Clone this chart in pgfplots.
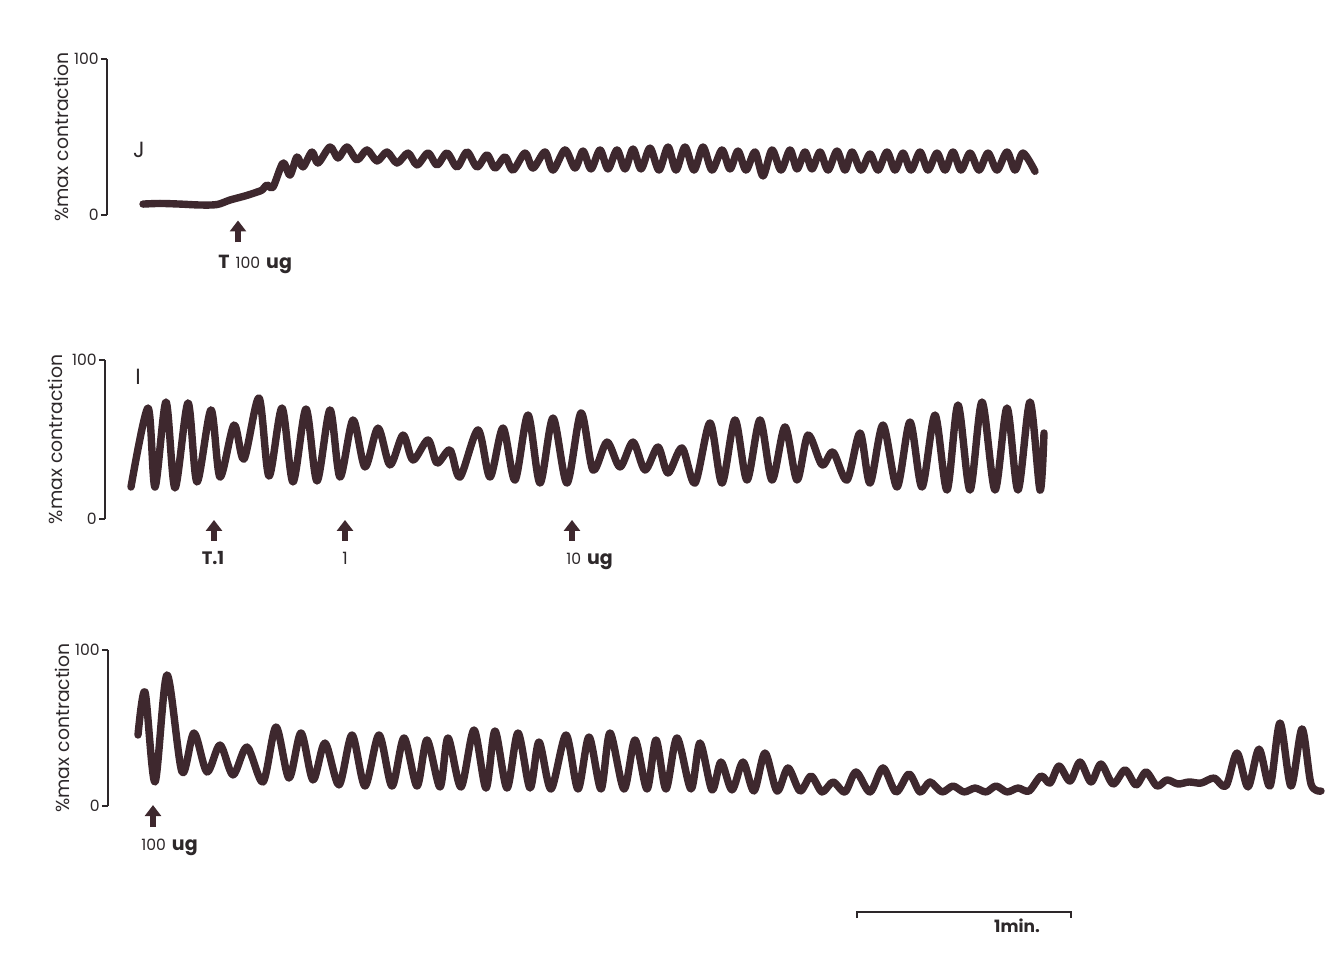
\documentclass[border=0pt]{standalone}
\usepackage{fontspec}
\setmainfont{Poppins}
\usepackage{pgfplots}
\pgfplotsset{compat=1.18}
\usetikzlibrary{arrows.meta}
\definecolor{tracecol}{RGB}{62,40,46}
\definecolor{ink}{RGB}{45,40,42}

\pgfplotsset{
  panel/.style={
    scale only axis, clip=false,
    xmax=1330, ymin=0, ymax=100,
    axis x line=none, axis y line=left,
    y axis line style={-, line width=0.8pt, ink},
    ytick={0,100}, tick align=outside, major tick length=3pt,
    tick style={ink, line width=0.8pt},
    yticklabel style={font=\fontsize{7.8}{8}\selectfont, text=ink, inner sep=1pt},
    /pgf/number format/assume math mode=true,
    every axis y label/.style={at={(axis description cs:0,0.5)}, rotate=90, anchor=center,
      font=\fontsize{9.4}{11}\selectfont, text=ink},
    ylabel={\%max contraction},
  },
  tr/.style={tracecol, line width=3.7pt, smooth, tension=0.5, line join=round, line cap=round, no markers},
}
\tikzset{arr/.style={tracecol, line width=2.9pt, -{Triangle[width=8pt,length=5.5pt]}}}

\begin{document}
\begin{tikzpicture}
\path[use as bounding box] (0,0) rectangle (666.5pt,479.5pt);

% ---------------- Panel J ----------------
\begin{axis}[panel, xmin=107, width=611.5pt, height=78pt,
  at={(53.5pt,372pt)}, anchor=south west,
  every axis y label/.append style={yshift=23pt}]
\addplot[tr] coordinates {
(143,7.0) (160,7.4) (180,7.0) (200,6.4) (217,6.7) (230,9.6) (245,12.2) (257,14.7) (262,16.0) (267,19.2) (273,17.9)
(283,33.3) (290,25.6) (297,37.2) (303,30.8) (312,40.4) (318,33.3) (330,43.6) (338,36.5) (347,43.6) (357,35.3)
(367,41.7) (377,34.6) (387,40.4) (397,33.3) (408,39.7) (417,32.1) (428,39.7) (437,32.1) (447,39.7) (457,30.8)
(467,40.4) (477,30.8) (487,38.5) (495,30.1) (505,37.2) (513,28.8) (525,39.7) (533,30.1) (545,40.4) (553,28.8)
(565,41.7) (575,30.1) (583,41.0) (591,29.5) (600,41.7) (608,29.5) (617,41.7) (625,29.5) (633,42.3) (641,29.5)
(650,42.9) (659,28.8) (668,43.6) (676,28.8) (685,43.6) (694,28.8) (703,43.6) (712,28.8) (722,41.7) (730,29.5)
(738,41.0) (746,28.8) (755,40.4) (763,25.0) (772,41.7) (781,28.8) (790,41.7) (797,29.5) (805,40.4) (812,29.5)
(820,40.4) (828,28.8) (837,41.0) (845,28.8) (852,40.4) (861,28.8) (870,39.1) (878,28.8) (887,40.4) (895,28.8)
(903,39.7) (911,28.8) (920,40.4) (928,28.8) (937,39.7) (945,28.8) (953,40.4) (961,28.8) (970,39.7) (979,28.8)
(988,39.7) (997,28.8) (1007,40.4) (1015,28.8) (1023,39.7) (1035,28.0)
};
\node[text=ink, font=\fontsize{11}{12}\selectfont] at (axis cs:139,41.7) {J};
\draw[arr] (axis cs:238,-17.5) -- (axis cs:238,-3.5);
\node[anchor=base west, text=ink, inner sep=0pt] at (axis cs:218,-34.5)
  {\fontsize{9.5}{10}\selectfont\textbf{T}\hspace{3pt}{\fontsize{7.8}{9}\selectfont 100}\hspace{3pt}\textbf{ug}};
\end{axis}

% ---------------- Panel I ----------------
\begin{axis}[panel, xmin=105, width=612.5pt, height=79.5pt,
  at={(52.5pt,220pt)}, anchor=south west,
  every axis y label/.append style={yshift=25pt}]
\addplot[tr] coordinates {
(131,20.1) (148,69.8) (155,20.1) (166,73.6) (175,19.5) (188,73.0) (197,23.3) (211,68.6) (220,26.4) (234,59.1)
(244,37.7) (259,76.1) (269,27.0) (282,69.8) (293,23.3) (306,69.2) (317,23.9) (330,68.6) (340,26.4) (353,62.3)
(365,32.7) (378,57.2) (390,34.0) (403,52.8) (413,37.1) (428,49.7) (437,35.2) (450,43.4) (460,26.4) (478,56.0)
(490,26.4) (503,57.2) (515,24.5) (528,65.4) (540,22.6) (553,63.5) (567,22.6) (581,66.7) (593,30.8) (607,48.4)
(620,32.7) (633,48.4) (645,30.8) (658,45.3) (668,28.9) (682,44.7) (695,22.6) (710,60.4) (722,22.6) (735,62.3)
(747,24.5) (760,62.3) (772,24.5) (785,57.9) (797,24.5) (808,52.8) (822,34.0) (833,42.1) (847,24.5) (860,54.1)
(870,22.6) (883,59.1) (897,20.1) (910,61.0) (922,20.1) (935,65.4) (947,18.2) (958,71.7) (970,18.2) (982,73.6)
(995,18.2) (1007,69.8) (1018,18.2) (1030,73.6) (1040,18.2) (1044,54.1)
};
\node[text=ink, font=\fontsize{11}{12}\selectfont] at (axis cs:138,89.3) {I};
\draw[arr] (axis cs:214,-13.8) -- (axis cs:214,-0.6);
\draw[arr] (axis cs:345,-13.8) -- (axis cs:345,-0.6);
\draw[arr] (axis cs:572,-13.8) -- (axis cs:572,-0.6);
\node[anchor=base, text=ink, inner sep=0pt, font=\fontsize{9}{10}\selectfont\bfseries] at (axis cs:213,-28.9) {T.1};
\node[anchor=base, text=ink, inner sep=0pt, font=\fontsize{8.5}{9}\selectfont] at (axis cs:345,-28.9) {1};
\node[anchor=base west, text=ink, inner sep=0pt] at (axis cs:566,-28.9)
  {{\fontsize{7.8}{9}\selectfont 10}\hspace{3pt}{\fontsize{9.5}{10}\selectfont\textbf{ug}}};
\end{axis}

% ---------------- Panel 3 ----------------
\begin{axis}[panel, xmin=108, width=611pt, height=78pt,
  at={(54pt,76.5pt)}, anchor=south west,
  every axis y label/.append style={yshift=23pt}]
\addplot[tr] coordinates {
(138,45.5) (145,73.1) (155,15.4) (167,84.0) (182,21.8) (194,46.8) (207,21.8) (220,39.1) (233,19.9) (247,37.8)
(263,15.4) (276,50.6) (289,17.9) (301,46.8) (313,16.7) (325,40.4) (339,13.5) (352,45.5) (365,12.8) (379,45.5)
(392,12.8) (404,43.6) (417,12.8) (427,42.3) (440,12.2) (448,43.6) (461,12.2) (474,48.7) (486,11.5) (495,48.1)
(507,11.5) (518,46.8) (530,11.5) (539,41.0) (551,10.9) (566,45.5) (578,10.9) (589,44.2) (601,10.9) (610,46.8)
(624,10.9) (635,42.3) (647,10.9) (656,42.3) (666,10.9) (677,43.6) (691,10.9) (700,40.4) (712,10.3) (721,28.2)
(732,10.3) (743,28.2) (754,9.6) (765,34.0) (777,9.6) (788,24.4) (800,9.6) (811,19.2) (822,9.0) (833,15.4)
(845,9.0) (856,21.8) (870,9.0) (883,24.4) (896,9.0) (909,20.5) (920,9.0) (930,15.4) (942,9.0) (953,12.8)
(964,9.0) (975,11.5) (986,9.0) (996,12.8) (1007,9.0) (1018,11.5) (1029,9.6) (1041,19.2) (1050,14.7) (1059,25.6)
(1070,16.0) (1080,28.2) (1091,15.4) (1101,26.9) (1113,14.1) (1125,23.1) (1136,13.5) (1146,21.8) (1157,12.8) (1167,16.7)
(1178,14.1) (1189,15.4) (1201,14.7) (1214,17.9) (1226,12.8) (1237,34.0) (1248,12.2) (1259,36.5) (1270,12.8) (1280,53.2)
(1291,12.8) (1302,49.4) (1311,14.1) (1321,9.6)
};
\draw[arr] (axis cs:153,-13.5) -- (axis cs:153,0.6);
\node[anchor=base west, text=ink, inner sep=0pt] at (axis cs:141,-28.8)
  {{\fontsize{7.8}{9}\selectfont 100}\hspace{3pt}{\fontsize{9.5}{10}\selectfont\textbf{ug}}};
% scale bar: 1 min
\draw[ink, line width=0.9pt] (axis cs:857,-71.8) -- (axis cs:857,-67.9) -- (axis cs:1071,-67.9) -- (axis cs:1071,-71.8);
\node[anchor=base, text=ink, inner sep=0pt, font=\fontsize{8.5}{10}\selectfont\bfseries] at (axis cs:1017,-80.8) {1min.};
\end{axis}
\end{tikzpicture}
\end{document}
